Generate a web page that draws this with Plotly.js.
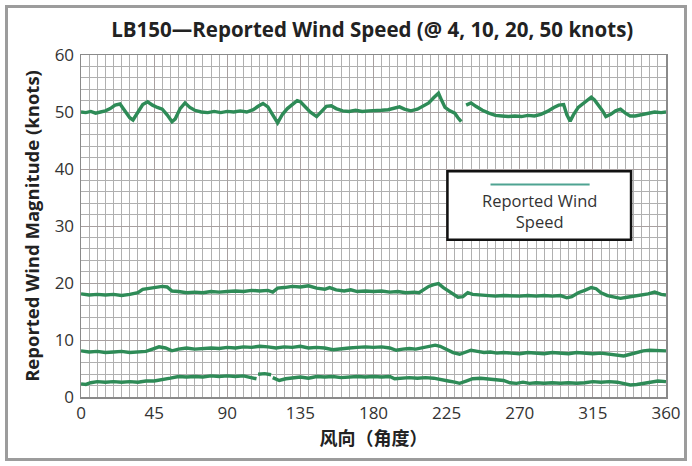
<!DOCTYPE html>
<html>
<head>
<meta charset="utf-8">
<script src="https://cdn.plot.ly/plotly-3.0.1.min.js"></script>
<style>
html,body{margin:0;padding:0;background:#fff;}
#wrap{position:relative;width:692px;height:466px;overflow:hidden;}
#chart{position:absolute;left:0;top:0;width:692px;height:466px;}
#frame{position:absolute;left:5px;top:5px;width:676px;height:450px;border:3px solid #9c9c9c;pointer-events:none;}
</style>
</head>
<body>
<div id="wrap"><div id="chart"></div><div id="frame"></div></div>
<script>
// ---- data ----
var xTickVals = [0, 45, 90, 135, 180, 225, 270, 315, 360];
var yTickVals = [0, 10, 20, 30, 40, 50, 60];

var deg50 = [0,3,6,9,12,15,18,21,24,27,30,32,35,38,41,44,47,50,53,56,58,61,64,67,70,74,78,82,86,90,94,98,102,106,109,112,115,118,121,124,127,130,133,135,138,141,145,148,151,154,157,161,165,169,173,177,181,185,189,193,196,199,203,207,211,214,217,220,222,224,227,230,232,234,235.5,237,240,243,247,251,255,259,263,267,271,275,279,283,287,291,294,297,299,301,303,306,309,312,314,316,319,321,323,326,329,332,335,338,341,345,349,353,357,360];
var spd50 = [50.0,49.9,50.1,49.8,50.0,50.2,50.6,51.2,51.4,50.2,49.0,48.6,50.0,51.3,51.8,51.2,50.8,50.5,49.5,48.3,48.8,50.6,51.6,50.8,50.3,50.0,49.9,50.1,49.9,50.1,50.0,50.2,50.0,50.4,51.0,51.5,50.9,49.5,48.1,49.6,50.6,51.3,52.0,51.8,51.0,50.0,49.2,50.1,51.0,51.1,50.6,50.2,50.1,50.3,50.1,50.2,50.2,50.3,50.4,50.6,50.9,50.5,50.2,50.5,51.2,51.6,52.5,53.3,52.0,50.8,50.2,49.8,49.0,48.3,null,51.2,51.6,51.0,50.3,49.8,49.4,49.3,49.2,49.3,49.2,49.4,49.3,49.6,50.1,50.8,51.2,51.3,49.5,48.4,49.5,50.8,51.5,52.2,52.6,52.1,51.0,50.2,49.2,49.6,50.2,50.5,49.8,49.3,49.3,49.5,49.8,50.0,49.9,50.0];

var deg20 = [0,5,10,15,20,25,30,35,38,42,46,50,53,56,60,65,70,75,80,85,90,95,100,105,110,115,118,121,125,130,135,140,145,150,153,157,162,166,170,175,180,185,190,195,200,205,208,211,214,217,220,223,226,229,232,235,238,241,245,250,255,260,265,270,275,280,285,290,295,299,302,306,310,314,317,320,324,328,332,336,340,345,349,353,357,360];
var spd20 = [18.1,17.9,18.0,17.9,18.0,17.8,18.0,18.3,18.9,19.1,19.2,19.4,19.3,18.6,18.5,18.3,18.4,18.3,18.5,18.4,18.5,18.6,18.5,18.7,18.6,18.7,18.4,19.1,19.2,19.4,19.3,19.5,19.1,18.9,19.2,18.8,18.6,18.8,18.5,18.6,18.5,18.6,18.4,18.5,18.3,18.4,18.3,18.9,19.4,19.7,19.9,19.2,18.6,18.0,17.5,17.6,18.3,18.0,17.9,17.8,17.7,17.8,17.7,17.7,17.8,17.7,17.8,17.7,17.8,17.4,17.6,18.3,18.7,19.2,19.0,18.3,17.8,17.6,17.3,17.5,17.7,17.8,18.1,18.4,18.0,17.9];

var deg10 = [0,5,10,15,20,25,30,35,40,44,48,52,56,60,65,70,75,80,85,90,95,100,105,110,115,120,125,130,135,140,145,150,155,160,165,170,175,180,185,190,194,198,202,206,210,214,218,221,225,229,233,236,240,244,248,252,256,260,265,270,275,280,285,290,295,300,305,310,315,320,325,330,334,338,342,346,350,355,360];
var spd10 = [8.1,7.9,8.0,7.8,7.9,8.0,7.8,7.9,8.0,8.4,8.8,8.6,8.1,8.4,8.6,8.4,8.5,8.6,8.5,8.7,8.6,8.8,8.7,8.9,8.8,8.6,8.8,8.7,8.9,8.6,8.7,8.6,8.3,8.5,8.6,8.7,8.8,8.7,8.8,8.6,8.2,8.4,8.5,8.4,8.6,8.8,9.1,8.9,8.4,7.8,7.5,7.8,8.2,8.0,7.8,7.9,7.7,7.8,7.7,7.6,7.8,7.7,7.6,7.8,7.7,7.6,7.8,7.7,7.6,7.7,7.5,7.3,7.2,7.5,7.8,8.1,8.2,8.2,8.1];

var deg4 = [0,3,6,10,15,20,25,30,35,40,45,50,55,60,65,70,75,80,85,90,95,100,105,108,108.5,109,113,117,117.5,118,122,126,130,135,140,145,150,155,160,165,170,175,180,185,190,193,197,202,207,212,217,222,226,230,233,237,241,246,251,256,260,264,268,272,276,280,285,290,295,300,305,310,315,320,325,330,334,338,342,346,350,355,360];
var spd4 = [2.3,2.2,2.5,2.7,2.6,2.7,2.6,2.7,2.6,2.8,2.8,3.0,3.3,3.6,3.5,3.6,3.5,3.7,3.6,3.7,3.6,3.7,3.4,3.2,null,4.0,4.1,3.9,null,3.4,2.9,3.2,3.4,3.5,3.3,3.6,3.5,3.6,3.4,3.5,3.6,3.5,3.6,3.5,3.6,3.2,3.3,3.4,3.3,3.4,3.3,3.1,2.8,2.6,2.4,2.8,3.2,3.3,3.2,3.1,2.9,2.5,2.4,2.6,2.4,2.5,2.4,2.5,2.4,2.5,2.4,2.5,2.7,2.6,2.7,2.6,2.4,2.1,2.2,2.4,2.6,2.8,2.7];

var seriesNames = ["4 knots", "10 knots", "20 knots", "50 knots"];
var legendText = "Reported Wind<br>Speed";
// ---- end data ----

var lineColor = "#2e8b57";
function mk(x, y, name) {
  return {x: x, y: y, name: name, type: "scatter", mode: "lines",
    line: {color: lineColor, width: 3.4}, connectgaps: false, showlegend: false, hoverinfo: "skip"};
}
var traces = [mk(deg4, spd4, seriesNames[0]), mk(deg10, spd10, seriesNames[1]),
              mk(deg20, spd20, seriesNames[2]), mk(deg50, spd50, seriesNames[3])];

var tickFont = {family: "Open Sans, sans-serif", size: 17, color: "#333"};
var layout = {
  width: 692, height: 466,
  margin: {l: 81, r: 26, t: 55, b: 69},
  paper_bgcolor: "#fff", plot_bgcolor: "#fff",
  showlegend: false,
  title: {text: "<b>LB150—Reported Wind Speed (@ 4, 10, 20, 50 knots)</b>",
    font: {family: "Open Sans, sans-serif", size: 20.5, color: "#222"},
    x: 0.538, xanchor: "center", y: 0.935, yanchor: "middle"},
  xaxis: {range: [0, 360], tickmode: "array", tickvals: xTickVals, ticks: "",
    tickfont: tickFont, showgrid: true, gridcolor: "#a8a0a0", gridwidth: 1,
    minor: {dtick: 5, tick0: 0, showgrid: true, gridcolor: "#b0b0b0", gridwidth: 1},
    showline: true, linecolor: "#8a8a8a", linewidth: 1.5, mirror: true, zeroline: false,
    fixedrange: true,
    title: {text: "<b>风向（角度）</b>", font: {family: "Noto Sans CJK SC, sans-serif", size: 18, color: "#222"}, standoff: 8}},
  yaxis: {range: [0, 60], tickmode: "array", tickvals: yTickVals, ticks: "",
    tickfont: tickFont, showgrid: true, gridcolor: "#a8a0a0", gridwidth: 1,
    minor: {dtick: 2, tick0: 0, showgrid: true, gridcolor: "#b0b0b0", gridwidth: 1},
    showline: true, linecolor: "#8a8a8a", linewidth: 1.5, mirror: true, zeroline: false,
    fixedrange: true, ticklabelstandoff: 2,
    title: {text: "<b>Reported Wind Magnitude (knots)</b>", font: {family: "Open Sans, sans-serif", size: 18.5, color: "#222"}, standoff: 10}},
  shapes: [
    {type: "rect", xref: "x", yref: "y", x0: 225.5, x1: 338.5, y0: 27.6, y1: 39.6,
      line: {color: "#111", width: 2.5}, fillcolor: "#fff", layer: "above"},
    {type: "line", xref: "x", yref: "y", x0: 252, x1: 313, y0: 37.3, y1: 37.3,
      line: {color: "#4fa392", width: 2}, layer: "above"}
  ],
  annotations: [
    {xref: "x", yref: "y", x: 282, y: 32.7, text: legendText, showarrow: false,
      font: {family: "Open Sans, sans-serif", size: 16.5, color: "#333"}, align: "center"}
  ]
};
Plotly.newPlot("chart", traces, layout, {displayModeBar: false, staticPlot: true});
</script>
</body>
</html>
